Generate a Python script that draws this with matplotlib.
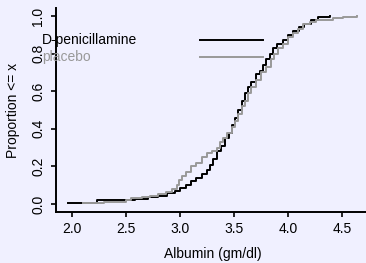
import numpy as np
import matplotlib
matplotlib.use("Agg")
import matplotlib.pyplot as plt
from matplotlib.lines import Line2D

plt.rcParams['font.family'] = ['Liberation Sans', 'DejaVu Sans']

# ECDF steps (albumin value, proportion after the step)
dpen_x = [1.96, 2.23, 2.58, 2.70, 2.80, 2.88, 2.95, 3.00, 3.06, 3.10, 3.15,
          3.20, 3.25, 3.28, 3.31, 3.34, 3.38, 3.42, 3.45, 3.48, 3.51, 3.54,
          3.57, 3.60, 3.63, 3.66, 3.70, 3.74, 3.77, 3.80, 3.83, 3.86, 3.90,
          3.95, 4.00, 4.05, 4.10, 4.15, 4.21, 4.28, 4.39]
dpen_y = [0.006, 0.02, 0.027, 0.035, 0.045, 0.06, 0.07, 0.085, 0.10, 0.12, 0.14,
          0.16, 0.18, 0.21, 0.24, 0.28, 0.31, 0.35, 0.38, 0.42, 0.46, 0.50,
          0.55, 0.59, 0.62, 0.65, 0.69, 0.71, 0.74, 0.77, 0.80, 0.83, 0.85,
          0.87, 0.90, 0.92, 0.94, 0.96, 0.98, 0.995, 1.00]

plac_x = [2.10, 2.30, 2.50, 2.55, 2.65, 2.72, 2.80, 2.87, 2.93, 2.97, 2.99,
          3.02, 3.06, 3.10, 3.15, 3.20, 3.25, 3.30, 3.34, 3.37, 3.40, 3.44,
          3.48, 3.51, 3.54, 3.57, 3.60, 3.63, 3.66, 3.70, 3.75, 3.80, 3.84,
          3.87, 3.91, 3.95, 4.00, 4.05, 4.09, 4.14, 4.20, 4.26, 4.42, 4.51, 4.64]
plac_y = [0.006, 0.013, 0.02, 0.03, 0.035, 0.045, 0.055, 0.065, 0.08, 0.10, 0.13,
          0.15, 0.17, 0.20, 0.22, 0.25, 0.27, 0.28, 0.30, 0.33, 0.35, 0.38,
          0.41, 0.44, 0.48, 0.52, 0.55, 0.59, 0.62, 0.66, 0.70, 0.73, 0.77,
          0.80, 0.83, 0.85, 0.89, 0.91, 0.93, 0.955, 0.97, 0.98, 0.99, 0.995, 1.00]

groups = ['D-penicillamine', 'placebo']
colors = ['black', '#999999']

bg = '#F0F0FF'
fig = plt.figure(figsize=(3.66, 2.63), dpi=100, facecolor=bg)
ax = fig.add_axes([56/366, 51.5/263, 312.7/366, 203/263])
ax.set_facecolor(bg)

ax.step(dpen_x, dpen_y, where='post', color=colors[0], lw=1.4)
ax.step(plac_x, plac_y, where='post', color=colors[1], lw=1.4)

# R style 4% padding
xmin = min(dpen_x + plac_x)
xmax = max(dpen_x + plac_x)
pad = 0.04 * (xmax - xmin)
ax.set_xlim(xmin - pad, xmax + pad)
ax.set_ylim(-0.04, 1.04)

ax.set_xticks([2.0, 2.5, 3.0, 3.5, 4.0, 4.5])
ax.set_yticks([0.0, 0.2, 0.4, 0.6, 0.8, 1.0])
ax.set_yticklabels(['0.0', '0.2', '0.4', '0.6', '0.8', '1.0'], rotation=90, va='center')
for s in ['top', 'right']:
    ax.spines[s].set_visible(False)
for s in ['left', 'bottom']:
    ax.spines[s].set_linewidth(1.4)
ax.tick_params(direction='out', length=3.6, width=1.2, labelsize=10, pad=4)
ax.set_xlabel('Albumin (gm/dl)', fontsize=10, labelpad=8)
ax.set_ylabel('Proportion <= x', fontsize=10, labelpad=8)

# legend drawn by hand, like the original
for i, (g, c) in enumerate(zip(groups, colors)):
    yy = 1 - (40 + 17 * i) / 263
    fig.text(42/366, yy, g, color=c, fontsize=10, va='center', ha='left')
    fig.add_artist(Line2D([200/366, 263/366], [yy, yy], color=c, lw=1.4))

fig.savefig('out.png', dpi=100, facecolor=bg)
